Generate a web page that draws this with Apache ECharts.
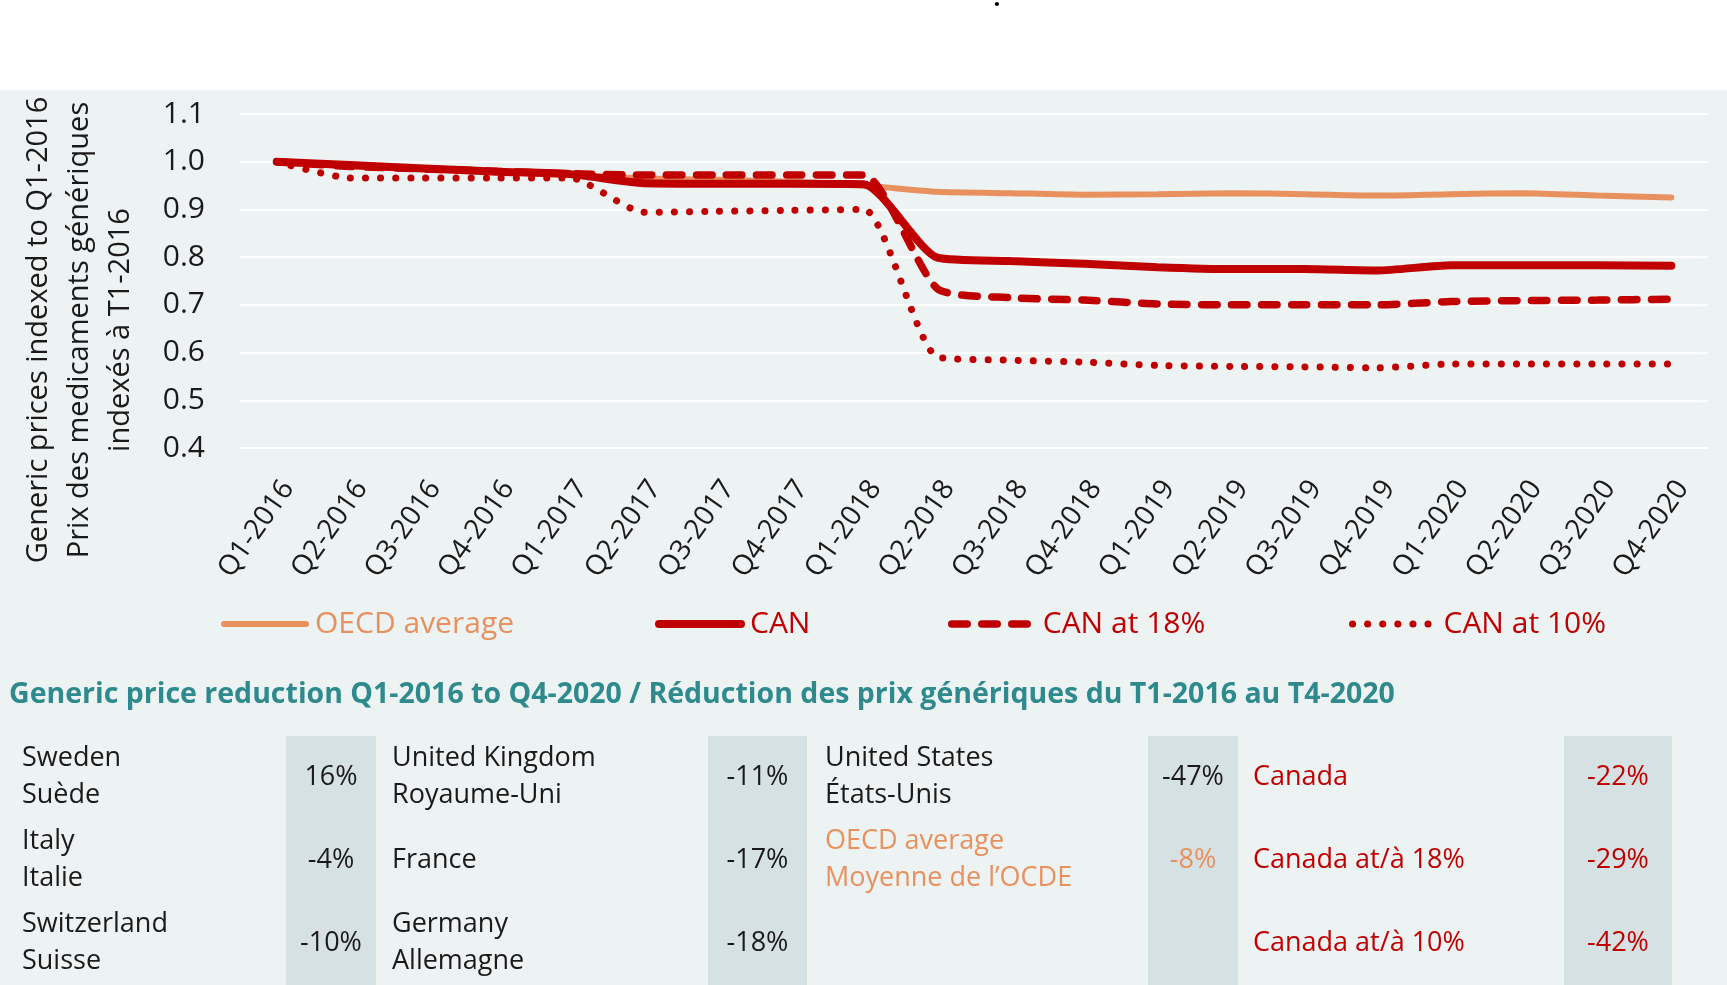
<!DOCTYPE html>
<html>
<head>
<meta charset="utf-8">
<script src="https://cdn.jsdelivr.net/npm/echarts@6/dist/echarts.min.js"></script>
<style>
  html, body { margin: 0; padding: 0; background: #ffffff; }
  #chart { width: 1727px; height: 985px; }
</style>
</head>
<body>
<div id="chart"></div>
<script>
// ---- Data ----
const categories = ['Q1-2016','Q2-2016','Q3-2016','Q4-2016','Q1-2017','Q2-2017','Q3-2017','Q4-2017',
  'Q1-2018','Q2-2018','Q3-2018','Q4-2018','Q1-2019','Q2-2019','Q3-2019','Q4-2019',
  'Q1-2020','Q2-2020','Q3-2020','Q4-2020'];
const oecdAverage = [1.0, 0.99, 0.985, 0.978, 0.972, 0.965, 0.962, 0.958, 0.95, 0.937, 0.934, 0.931, 0.932, 0.934, 0.932, 0.929, 0.932, 0.934, 0.929, 0.925];
const canValues   = [1.0, 0.993, 0.986, 0.979, 0.974, 0.955, 0.954, 0.954, 0.953, 0.799, 0.792, 0.786, 0.779, 0.775, 0.775, 0.772, 0.783, 0.783, 0.783, 0.782];
const can18Values = [1.0, 0.99, 0.985, 0.98, 0.975, 0.972, 0.972, 0.972, 0.972, 0.734, 0.715, 0.71, 0.702, 0.70, 0.70, 0.70, 0.707, 0.709, 0.71, 0.712];
const can10Values = [1.0, 0.966, 0.966, 0.966, 0.966, 0.894, 0.896, 0.898, 0.9, 0.591, 0.584, 0.58, 0.573, 0.571, 0.57, 0.568, 0.576, 0.576, 0.576, 0.576];
const seriesNames = ['OECD average', 'CAN', 'CAN at 18%', 'CAN at 10%'];
const yTicks = { min: 0.4, max: 1.1, interval: 0.1 };

const axisTitleLines = ['Generic prices indexed to Q1-2016', 'Prix des medicaments génériques', 'indexés à T1-2016'];
const tableTitle = 'Generic price reduction Q1-2016 to Q4-2020 / Réduction des prix génériques du T1-2016 au T4-2020';
// table: 4 column groups x 3 rows
const tableNames = [
  [['Sweden','Suède'], ['Italy','Italie'], ['Switzerland','Suisse']],
  [['United Kingdom','Royaume-Uni'], ['France'], ['Germany','Allemagne']],
  [['United States','États-Unis'], ['OECD average','Moyenne de l’OCDE'], []],
  [['Canada'], ['Canada at/à 18%'], ['Canada at/à 10%']]
];
const tableValues = [
  ['16%', '-4%', '-10%'],
  ['-11%', '-17%', '-18%'],
  ['-47%', '-8%', ''],
  ['-22%', '-29%', '-42%']
];
const tableKinds = [
  ['n','n','n'], ['n','n','n'], ['n','o',''], ['c','c','c']
];

// ---- Styles / layout ----
const RED = '#C00000';
const ORANGE = '#E8915F';
const TEAL = '#2E8A8D';
const BG = '#EDF2F3';
const SHADE = '#D6E1E3';
const TXT = '#1a1a1a';
const FONT = '"Open Sans", "Noto Sans", sans-serif';

const kindColor = { n: TXT, o: ORANGE, c: RED };
const colNameX = [22, 392, 825, 1253];
const colShade = [[286, 376], [708, 807], [1148, 1238], [1564, 1672]];
const rowCenter = [777, 860, 943];
const lineGap = 37;

const graphics = [];
graphics.push({ type: 'rect', z: -10, silent: true, shape: { x: 0, y: 90, width: 1727, height: 895 }, style: { fill: BG } });
graphics.push({ type: 'text', x: 997, y: -1, style: { text: '.', fill: '#000', font: 'bold 24px ' + FONT, align: 'center', textAlign: 'center', verticalAlign: 'middle', textVerticalAlign: 'middle' } });
graphics.push({ type: 'text', x: 80, y: 330, rotation: Math.PI / 2,
  style: { text: axisTitleLines.join('\n'), fill: TXT, font: '29px ' + FONT, lineHeight: 41,
    align: 'center', textAlign: 'center', verticalAlign: 'middle', textVerticalAlign: 'middle' } });
graphics.push({ type: 'text', x: 9, y: 695,
  style: { text: tableTitle, fill: TEAL, font: 'bold 28.5px ' + FONT,
    align: 'left', textAlign: 'left', verticalAlign: 'middle', textVerticalAlign: 'middle' } });
colShade.forEach(function (s) {
  graphics.push({ type: 'rect', z: -5, silent: true, shape: { x: s[0], y: 736, width: s[1] - s[0], height: 249 }, style: { fill: SHADE } });
});
for (let c = 0; c < 4; c++) {
  for (let r = 0; r < 3; r++) {
    const names = tableNames[c][r];
    const color = kindColor[tableKinds[c][r]] || TXT;
    if (names.length) {
      graphics.push({ type: 'text', x: colNameX[c], y: rowCenter[r],
        style: { text: names.join('\n'), fill: color, font: '27px ' + FONT, lineHeight: lineGap,
          align: 'left', textAlign: 'left', verticalAlign: 'middle', textVerticalAlign: 'middle' } });
    }
    if (tableValues[c][r]) {
      graphics.push({ type: 'text', x: (colShade[c][0] + colShade[c][1]) / 2, y: rowCenter[r],
        style: { text: tableValues[c][r], fill: color, font: '27px ' + FONT,
          align: 'center', textAlign: 'center', verticalAlign: 'middle', textVerticalAlign: 'middle' } });
    }
  }
}

const legendLefts = [221, 655, 948, 1349];
const seriesColors = [ORANGE, RED, RED, RED];
const lineWidths = [6, 8, 7.5, 7];
const lineTypes = ['solid', 'solid', [15.5, 14.5], [0.1, 15]];
const legends = seriesNames.map(function (n, i) {
  return {
    data: [{ name: n, textStyle: { color: seriesColors[i] } }],
    left: legendLefts[i], top: 606, padding: 0,
    itemWidth: 82, itemHeight: 14,
    itemStyle: { opacity: 0 },
    lineStyle: { width: lineWidths[i] },
    textStyle: { fontFamily: FONT, fontSize: 30, lineHeight: 36, padding: [0, 0, 0, 4] },
    selectedMode: false
  };
});

const chart = echarts.init(document.getElementById('chart'), null, { renderer: 'canvas' });
chart.setOption({
  backgroundColor: 'transparent',
  animation: false,
  graphic: graphics,
  legend: legends,
  grid: { left: 240, right: 19, top: 114, bottom: 537, containLabel: false },
  xAxis: {
    type: 'category', data: categories, boundaryGap: true,
    axisLine: { show: false }, axisTick: { show: false },
    axisLabel: { interval: 0, rotate: 55, margin: 52, color: TXT, fontFamily: FONT, fontSize: 28, padding: [0, -20, 0, 0] }
  },
  yAxis: {
    type: 'value', min: yTicks.min, max: yTicks.max, interval: yTicks.interval,
    axisLine: { show: false }, axisTick: { show: false },
    axisLabel: { margin: 35, color: TXT, fontFamily: FONT, fontSize: 30, formatter: function (v) { return v.toFixed(1); } },
    splitLine: { lineStyle: { color: '#ffffff', width: 2 } }
  },
  series: seriesNames.map(function (n, i) {
    return {
      name: n, type: 'line', data: [oecdAverage, canValues, can18Values, can10Values][i],
      symbol: 'none', smooth: 0.2, color: seriesColors[i],
      lineStyle: { color: seriesColors[i], width: lineWidths[i], type: lineTypes[i], cap: 'round' }
    };
  })
});
</script>
</body>
</html>
